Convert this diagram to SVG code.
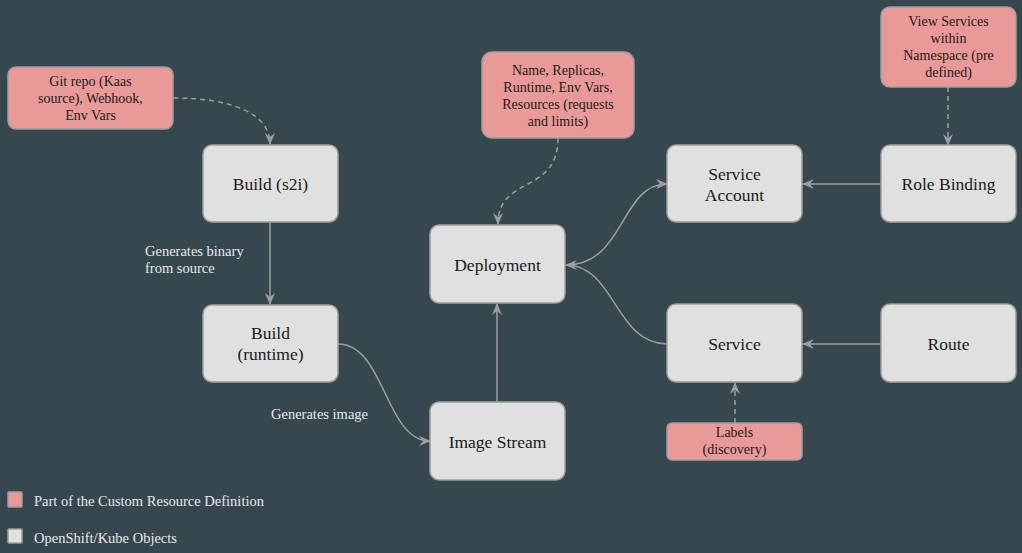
<svg xmlns="http://www.w3.org/2000/svg" width="1022" height="553" viewBox="0 0 1022 553">
<style>
.bg{fill:#37474f}
.obj{fill:#e0e0e0;stroke:#9e9e9e;stroke-width:1.5}
.crd{fill:#ea9999;stroke:#9e9e9e;stroke-width:1.5}
text{font-family:'Liberation Serif','Noto Serif','DejaVu Serif',serif}
.t{fill:#1a1a1a;text-anchor:middle}
.big{font-size:17.5px}
.sm{font-size:14px}
.lbl{font-size:14.5px;fill:#e8e8e8}
.e{fill:none;stroke:#9e9e9e;stroke-width:1.5}
.d{stroke-dasharray:5,4}
</style>
<defs>
<marker id="arr" viewBox="0 0 12 10" refX="11" refY="5" markerWidth="12" markerHeight="10" markerUnits="userSpaceOnUse" orient="auto">
<path d="M0,0 L12,5 L0,10 L4,5 z" fill="#9e9e9e"/>
</marker>
</defs>
<rect class="bg" x="0" y="0" width="1022" height="553"/>

<g id="connectors">
<path class="e d" d="M173,98 C235,98 270,115 270,144" marker-end="url(#arr)"/>
<path class="e" d="M270,222 L270,304" marker-end="url(#arr)"/>
<path class="e" d="M338,344 C385,344 385,441 430,441" marker-end="url(#arr)"/>
<path class="e" d="M497,402 L497,304" marker-end="url(#arr)"/>
<path class="e d" d="M558,138 C558,195 498,175 498,224" marker-end="url(#arr)"/>
<path class="e" d="M566,265 C625,265 620,184 667,184" marker-end="url(#arr)"/>
<path class="e" d="M667,344 C615,344 615,265 566,265" marker-end="url(#arr)"/>
<path class="e" d="M881,184 L803,184" marker-end="url(#arr)"/>
<path class="e" d="M881,344 L803,344" marker-end="url(#arr)"/>
<path class="e d" d="M735,423 L735,383" marker-end="url(#arr)"/>
<path class="e d" d="M948,87 L948,145" marker-end="url(#arr)"/>
</g>

<g id="lbl-binary"><text class="lbl" x="145" y="256">Generates binary</text><text class="lbl" x="145" y="273">from source</text></g>
<g id="lbl-image"><text class="lbl" x="271" y="419">Generates image</text></g>

<g id="git"><rect class="crd" x="8" y="67" width="165" height="62" rx="8"/>
<text class="t sm" x="90.5" y="86">Git repo (Kaas</text><text class="t sm" x="90.5" y="103">source), Webhook,</text><text class="t sm" x="90.5" y="120">Env Vars</text></g>

<g id="build-s2i"><rect class="obj" x="203" y="145" width="135" height="77" rx="9"/>
<text class="t big" x="270.5" y="190">Build (s2i)</text></g>

<g id="build-runtime"><rect class="obj" x="203" y="305" width="135" height="77" rx="9"/>
<text class="t big" x="270.5" y="339">Build</text><text class="t big" x="270.5" y="360">(runtime)</text></g>

<g id="deployment"><rect class="obj" x="430" y="225" width="135" height="78" rx="9"/>
<text class="t big" x="497.5" y="271">Deployment</text></g>

<g id="image-stream"><rect class="obj" x="430" y="402" width="135" height="78" rx="9"/>
<text class="t big" x="497.5" y="448">Image Stream</text></g>

<g id="deploy-spec"><rect class="crd" x="482" y="52" width="152" height="86" rx="10"/>
<text class="t sm" x="558" y="75">Name, Replicas,</text><text class="t sm" x="558" y="92">Runtime, Env Vars,</text><text class="t sm" x="558" y="109">Resources (requests</text><text class="t sm" x="558" y="126">and limits)</text></g>

<g id="service-account"><rect class="obj" x="667" y="145" width="135" height="77" rx="9"/>
<text class="t big" x="734.5" y="180">Service</text><text class="t big" x="734.5" y="201">Account</text></g>

<g id="role-binding"><rect class="obj" x="881" y="145" width="135" height="77" rx="9"/>
<text class="t big" x="948.5" y="190">Role Binding</text></g>

<g id="view-services"><rect class="crd" x="881" y="7" width="135" height="80" rx="9"/>
<text class="t sm" x="948.5" y="26">View Services</text><text class="t sm" x="948.5" y="43">within</text><text class="t sm" x="948.5" y="60">Namespace (pre</text><text class="t sm" x="948.5" y="77">defined)</text></g>

<g id="service"><rect class="obj" x="667" y="304" width="135" height="78" rx="9"/>
<text class="t big" x="734.5" y="350">Service</text></g>

<g id="route"><rect class="obj" x="881" y="304" width="135" height="78" rx="9"/>
<text class="t big" x="948.5" y="350">Route</text></g>

<g id="labels"><rect class="crd" x="667" y="423" width="135" height="37" rx="5"/>
<text class="t sm" x="734.5" y="437">Labels</text><text class="t sm" x="734.5" y="454">(discovery)</text></g>

<g id="legend">
<rect class="crd" x="8" y="492" width="14" height="15" rx="1"/>
<text class="lbl" x="34" y="506">Part of the Custom Resource Definition</text>
<rect class="obj" x="8" y="529" width="14" height="14" rx="1"/>
<text class="lbl" x="34" y="543">OpenShift/Kube Objects</text>
</g>
</svg>
